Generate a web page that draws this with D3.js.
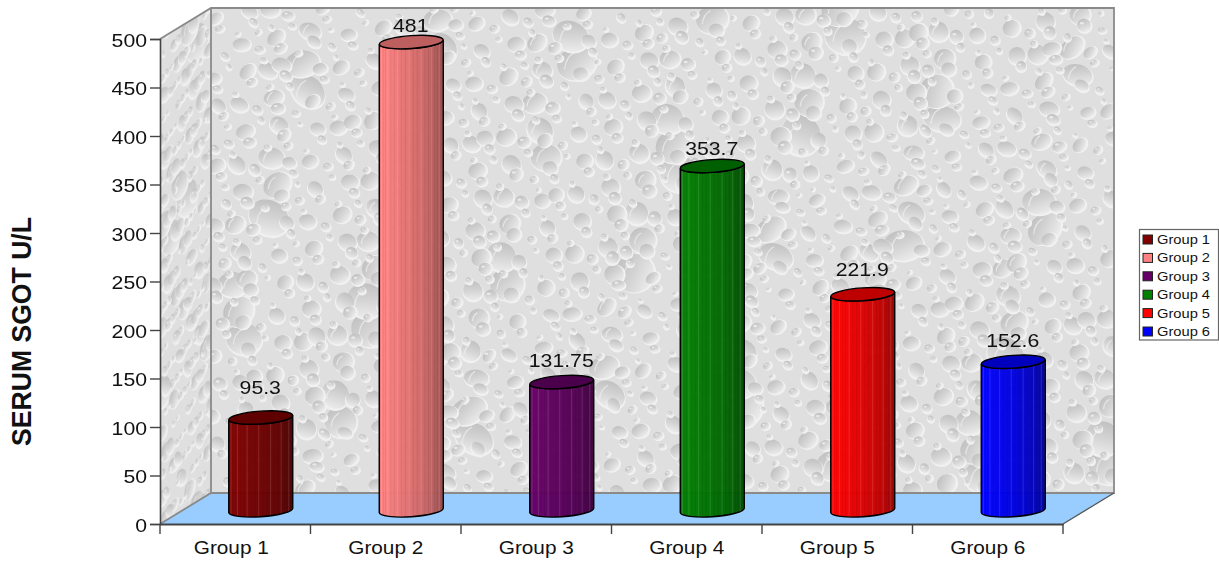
<!DOCTYPE html>
<html><head><meta charset="utf-8">
<script src="https://cdnjs.cloudflare.com/ajax/libs/d3/7.8.5/d3.min.js"></script>
<style>html,body{margin:0;padding:0;background:#fff}svg{display:block}text{font-family:"Liberation Sans",Arial,sans-serif;fill:#111}</style>
</head><body><div id="c"></div>
<script>
const categories=["Group 1","Group 2","Group 3","Group 4","Group 5","Group 6"];
const values=[95.3,481,131.75,353.7,221.9,152.6];
const valueLabels=["95.3","481","131.75","353.7","221.9","152.6"];
const colors=["#800000","#ff8080","#660066","#008000","#ff0000","#0000ff"];
const yTicks=[0,50,100,150,200,250,300,350,400,450,500];
const yTitle="SERUM SGOT U/L";
const labelGaps=[24,10,15,11,18,15];

const W=1219,H=564;
const svg=d3.select("#c").append("svg").attr("width",W).attr("height",H);
const defs=svg.append("defs");
const F={x0:160,x1:1063,y0:524,y1:39}, dx=51, dy=-31;
const x=d3.scaleBand().domain(categories).range([F.x0,F.x1]);
const y=d3.scaleLinear().domain([0,500]).range([F.y0,F.y1]);
const yBar=d3.scaleLinear().domain([0,500]).range([510.3,510.3-486.75]);

// water-drop texture (decorative, fixed low-discrepancy layout)
const soft=defs.append("filter").attr("id","soft").attr("x","-2%").attr("y","-2%").attr("width","104%").attr("height","104%");
soft.append("feGaussianBlur").attr("stdDeviation",0.7);
const dg=defs.append("linearGradient").attr("id","drop").attr("x1",.1).attr("y1",0).attr("x2",.6).attr("y2",1);
[[0,"#bcbcbc"],[.55,"#d4d4d4"],[1,"#ebebeb"]].forEach(s=>dg.append("stop").attr("offset",s[0]).attr("stop-color",s[1]));
const frac=v=>v-Math.floor(v);
function drawDrops(g,w,h,n){
  g.append("rect").attr("x",-2).attr("y",-2).attr("width",w+4).attr("height",h+4).attr("fill","#dfdfdf");
  const ds=d3.range(1,n).map(k=>{
    const s=frac(k*0.6180339887);
    const r=s>.95?11+(s-.95)*200:s>.55?6+(s-.55)*11:2+s*6;
    return {px:frac(k*0.7548776662)*w,py:frac(k*0.5698402910)*h,r,
            asp:.68+frac(k*0.3247)*.3,rot:-50+frac(k*0.4142)*100};
  }).sort((a,b)=>b.r-a.r);
  const e=g.selectAll("g.d").data(ds).join("g").attr("class","d").attr("transform",d=>`translate(${d.px},${d.py})`);
  e.append("ellipse").attr("cx",.8).attr("cy",1).attr("rx",d=>d.r+.9).attr("ry",d=>d.r*d.asp+.9).attr("transform",d=>`rotate(${d.rot})`).attr("fill","#f1f1f1");
  e.append("ellipse").attr("rx",d=>d.r).attr("ry",d=>d.r*d.asp).attr("transform",d=>`rotate(${d.rot})`).attr("fill","url(#drop)");
  e.filter(d=>d.r<7).append("ellipse").attr("cx",d=>-d.r*.3).attr("cy",d=>-d.r*.3).attr("rx",d=>d.r*.3).attr("ry",d=>d.r*.18).attr("fill","#f6f6f6").attr("opacity",.7);
  e.filter(d=>d.r>=10).append("path").attr("d",d=>`M${-d.r*.6},${d.r*.3}Q${-d.r*.55},${-d.r*.3} ${-d.r*.1},${-d.r*.55}`).attr("fill","none").attr("stroke","#f0f0f0").attr("stroke-width",1.3).attr("opacity",.7);
}
defs.append("clipPath").attr("id","bw").append("rect").attr("x",F.x0+dx).attr("y",F.y1+dy).attr("width",F.x1-F.x0).attr("height",F.y0-F.y1);
drawDrops(svg.append("g").attr("clip-path","url(#bw)").append("g").attr("filter","url(#soft)").attr("transform",`translate(${F.x0+dx},${F.y1+dy})`),F.x1-F.x0,F.y0-F.y1,1500);
defs.append("clipPath").attr("id","lw").append("path").attr("d",`M${F.x0},${F.y0}L${F.x0+dx},${F.y0+dy}V${F.y1+dy}L${F.x0},${F.y1}Z`);
drawDrops(svg.append("g").attr("clip-path","url(#lw)").append("g").attr("transform",`matrix(.55,${dy/dx*.55},0,1,${F.x0},${F.y1-4})`).append("g").attr("filter","url(#soft)"),96,F.y0-F.y1+40,240);
// floor
svg.append("path").attr("d",`M${F.x0},${F.y0}L${F.x0+dx},${F.y0+dy}H${F.x1+dx}L${F.x1},${F.y0}Z`).attr("fill","#99ccff");
// frame
svg.append("path").attr("fill","none").attr("stroke","#8a8a8a").attr("stroke-width",1.8)
  .attr("d",`M${F.x0},${F.y1}L${F.x0+dx},${F.y1+dy}H${F.x1+dx}V${F.y0+dy}H${F.x0+dx}L${F.x0},${F.y0}M${F.x0+dx},${F.y1+dy}V${F.y0+dy}`);
svg.append("path").attr("fill","none").attr("stroke","#555").attr("stroke-width",1.3)
  .attr("d",`M${F.x1},${F.y0}L${F.x1+dx},${F.y0+dy}`);

// bars
const rx=32, ryE=6.4, tilt=2.2;
const shade=(c,k)=>{const r=d3.rgb(c);return d3.rgb(r.r*k,r.g*k,r.b*k).formatHex()};
const marks=svg.append("g");
categories.forEach((cat,i)=>{
  const cx=x(cat)+x.bandwidth()/2+dx/2, yb=yBar(0), yt=yBar(values[i]), col=colors[i];
  const g=defs.append("linearGradient").attr("id","g"+i);
  [[0,1],[.1,1],[.3,.93],[.5,.87],[.75,.78],[1,.62]].forEach(s=>g.append("stop").attr("offset",s[0]).attr("stop-color",shade(col,s[1])));
  const body=`M${cx-rx},${yt+tilt}L${cx-rx},${yb+tilt}A${rx},${ryE} -4 0 0 ${cx+rx},${yb-tilt}L${cx+rx},${yt-tilt}A${rx},${ryE} -4 0 1 ${cx-rx},${yt+tilt}Z`;
  defs.append("clipPath").attr("id","c"+i).append("path").attr("d",body);
  const m=marks.append("g");
  m.append("path").attr("d",body).attr("fill",`url(#g${i})`).attr("fill-opacity",.97);
  const s=m.append("g").attr("clip-path",`url(#c${i})`);
  d3.range(1,25).forEach(k=>{
    const px=cx-rx*Math.cos(Math.PI*k/25);
    s.append("line").attr("x1",px).attr("x2",px).attr("y1",yt-10).attr("y2",yb+10)
     .attr("stroke",k%3==0?"#fff":"#000").attr("stroke-opacity",k%3==0?.16:.1).attr("stroke-width",.8);
  });
  m.append("path").attr("d",body).attr("fill","none").attr("stroke","#000").attr("stroke-width",1.4);
  m.append("ellipse").attr("cx",0).attr("cy",0).attr("rx",rx).attr("ry",ryE).attr("transform",`translate(${cx},${yt}) rotate(-4)`)
   .attr("fill",shade(col,.74)).attr("stroke","#000").attr("stroke-width",1.4);
  svg.append("text").attr("text-anchor","middle").attr("font-size",18)
   .attr("transform",`translate(${cx-0.5},${yt-labelGaps[i]}) scale(1.18,1)`).text(valueLabels[i]);
});

// axes
const ax=svg.append("g").attr("transform",`translate(${F.x0},0)`).call(d3.axisLeft(y).tickValues(yTicks).tickSize(10).tickPadding(3));
ax.select(".domain").attr("stroke","#444").attr("stroke-width",1.6);
ax.selectAll(".tick line").attr("stroke","#444").attr("stroke-width",1.4);
ax.attr("font-family",null).attr("font-size",null);
ax.selectAll(".tick text").attr("font-size",18).each(function(){
  d3.select(this).attr("x",null).attr("dy",null).attr("transform","translate(-13,7) scale(1.18,1)")});

const bx=svg.append("g").attr("transform",`translate(0,${F.y0})`).call(d3.axisBottom(x).tickSize(0));
bx.select(".domain").attr("stroke","#444").attr("stroke-width",2.2);
bx.attr("font-family",null).attr("font-size",null);
bx.selectAll(".tick text").attr("font-size",18).attr("y",null).attr("dy",null).attr("transform",(d,i)=>`translate(${i==0?-4:0},30) scale(1.155,1)`);
bx.selectAll("line.sep").data(d3.range(0,7)).join("line").attr("class","sep")
  .attr("x1",d=>F.x0+d*x.bandwidth()).attr("x2",d=>F.x0+d*x.bandwidth()).attr("y1",0).attr("y2",10).attr("stroke","#444").attr("stroke-width",1.4);

// title
svg.append("text").attr("text-anchor","middle").attr("font-weight","bold").attr("font-size",28)
  .attr("transform",`translate(31,331.5) rotate(-90) scale(.95,1)`).text(yTitle);

// legend
const L={x:1139,y:229.5,w:80,h:110.5};
svg.append("rect").attr("x",L.x+.5).attr("y",L.y).attr("width",L.w-1).attr("height",L.h).attr("fill","#fff").attr("stroke","#666").attr("stroke-width",1.2);
const rowY=d3.scalePoint().domain(categories).range([239.5,331.5]);
const lg=svg.selectAll("g.lg").data(categories).join("g").attr("class","lg").attr("transform",d=>`translate(1143,${rowY(d)})`);
lg.append("rect").attr("x",0).attr("y",-4.5).attr("width",9.5).attr("height",9).attr("fill",(d,i)=>colors[i]).attr("stroke","#222").attr("stroke-width",1);
lg.append("text").attr("font-size",13).attr("transform","translate(14,4.5) scale(1.13,1)").text(d=>d);
</script></body></html>
